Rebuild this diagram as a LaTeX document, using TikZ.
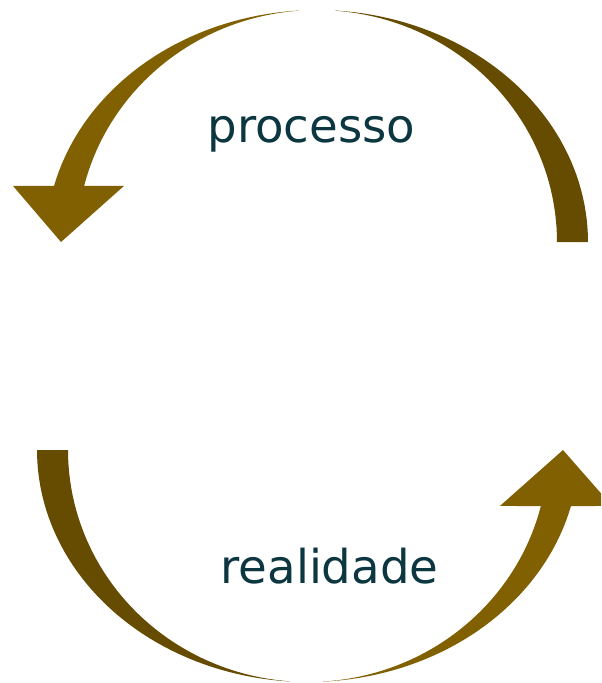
\documentclass[tikz,border=0pt]{standalone}
\usepackage{fontspec}
\setmainfont{DejaVu Sans}
\definecolor{golddark}{HTML}{664C00}
\definecolor{goldlight}{HTML}{806000}
\definecolor{labelteal}{HTML}{0C3741}
\newcommand\ArrowTopShape[1]{%
  \fill[#1] plot[domain=0:-166, samples=90] ({317+271*cos(\x)},{242+232*sin(\x)})
    -- (13,185.9) -- (61,242) -- (124,185.9)
    -- plot[domain=-166:0, samples=90] ({317+240*cos(\x)},{242+232*sin(\x)}) -- cycle;}
\newcommand\ArrowBottomShape[1]{%
  \fill[#1] plot[domain=180:14, samples=90] ({308+271*cos(\x)},{450+232*sin(\x)})
    -- (612,505.9) -- (563,450) -- (500,505.9)
    -- plot[domain=14:180, samples=90] ({308+240*cos(\x)},{450+232*sin(\x)}) -- cycle;}
\tikzset{lbl/.style={text=labelteal, font=\fontsize{35}{42}\selectfont, inner sep=0pt, anchor=base}}
\begin{document}
\begin{tikzpicture}[x=0.75pt, y=-0.75pt]
\useasboundingbox (0,0) rectangle (601,683);
\clip (0,0) rectangle (601,683);
% top arrow: dark tail on the right, lighter head on the left
\begin{scope}
  \clip (0,0) rectangle (299,300);
  \ArrowTopShape{goldlight}
\end{scope}
\begin{scope}
  \clip (335,0) rectangle (601,300);
  \ArrowTopShape{golddark}
\end{scope}
% bottom arrow: dark tail on the left, lighter head on the right
\begin{scope}
  \clip (0,400) rectangle (290,683);
  \ArrowBottomShape{golddark}
\end{scope}
\begin{scope}
  \clip (323,400) rectangle (601,683);
  \ArrowBottomShape{goldlight}
\end{scope}
\node[lbl] (processo) at (311.5,142) {processo};
\node[lbl] (realidade) at (329.5,583) {realidade};
\end{tikzpicture}
\end{document}
